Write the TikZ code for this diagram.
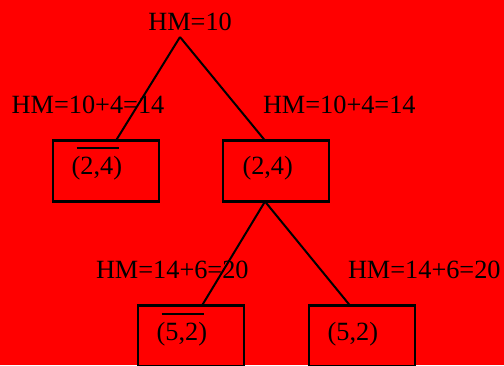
\documentclass[tikz,border=0pt]{standalone}
\usepackage{fontspec}
\setmainfont{Liberation Serif}
\begin{document}
\begin{tikzpicture}[x=1pt,y=-1pt,
  lbl/.style={anchor=base west,inner sep=0pt,outer sep=0pt,font=\fontsize{26.3}{30}\selectfont},
  boxnode/.style={draw,line width=2.1pt,minimum width=106pt,minimum height=61pt,anchor=north west,inner sep=0pt,outer sep=0pt},
  edgeline/.style={line width=2pt},
  ovl/.style={line width=2pt}]
\fill[red] (0,0) rectangle (504,365);
\useasboundingbox (0,0) rectangle (504,365);
% title
\node[lbl] (root) at (148.3,30.5) {HM=10};
\coordinate (apex) at (180,37);
% boxes
\node[boxnode] (b1) at (52.7,140.5) {};
\node[boxnode] (b2) at (223.2,140.5) {};
\node[boxnode] (b3) at (137.6,305.5) {};
\node[boxnode] (b4) at (308.6,305.5) {};
% box texts
\node[lbl] (t1) at (71.7,174) {(2,4)};
\node[lbl] (t2) at (242.5,174) {(2,4)};
\node[lbl] (t3) at (156.7,340) {(5,2)};
\node[lbl] (t4) at (327.7,340) {(5,2)};
\draw[ovl] (76.7,148.3) -- (119,148.3);
\draw[ovl] (161.7,314) -- (204,314);
% connector end points
\coordinate (e1) at (116,140.5);
\coordinate (e2) at (265,140.5);
\coordinate (apex2) at (265,201.5);
\coordinate (e3) at (202,305.5);
\coordinate (e4) at (350,305.5);
\draw[edgeline] (apex) -- (e1);
\draw[edgeline] (apex) -- (e2);
\draw[edgeline] (apex2) -- (e3);
\draw[edgeline] (apex2) -- (e4);
% labels
\node[lbl] (l1) at (11.7,113) {HM=10+4=14};
\node[lbl] (l2) at (263,113) {HM=10+4=14};
\node[lbl] (l3) at (96,278) {HM=14+6=20};
\node[lbl] (l4) at (348,278) {HM=14+6=20};
\end{tikzpicture}
\end{document}
